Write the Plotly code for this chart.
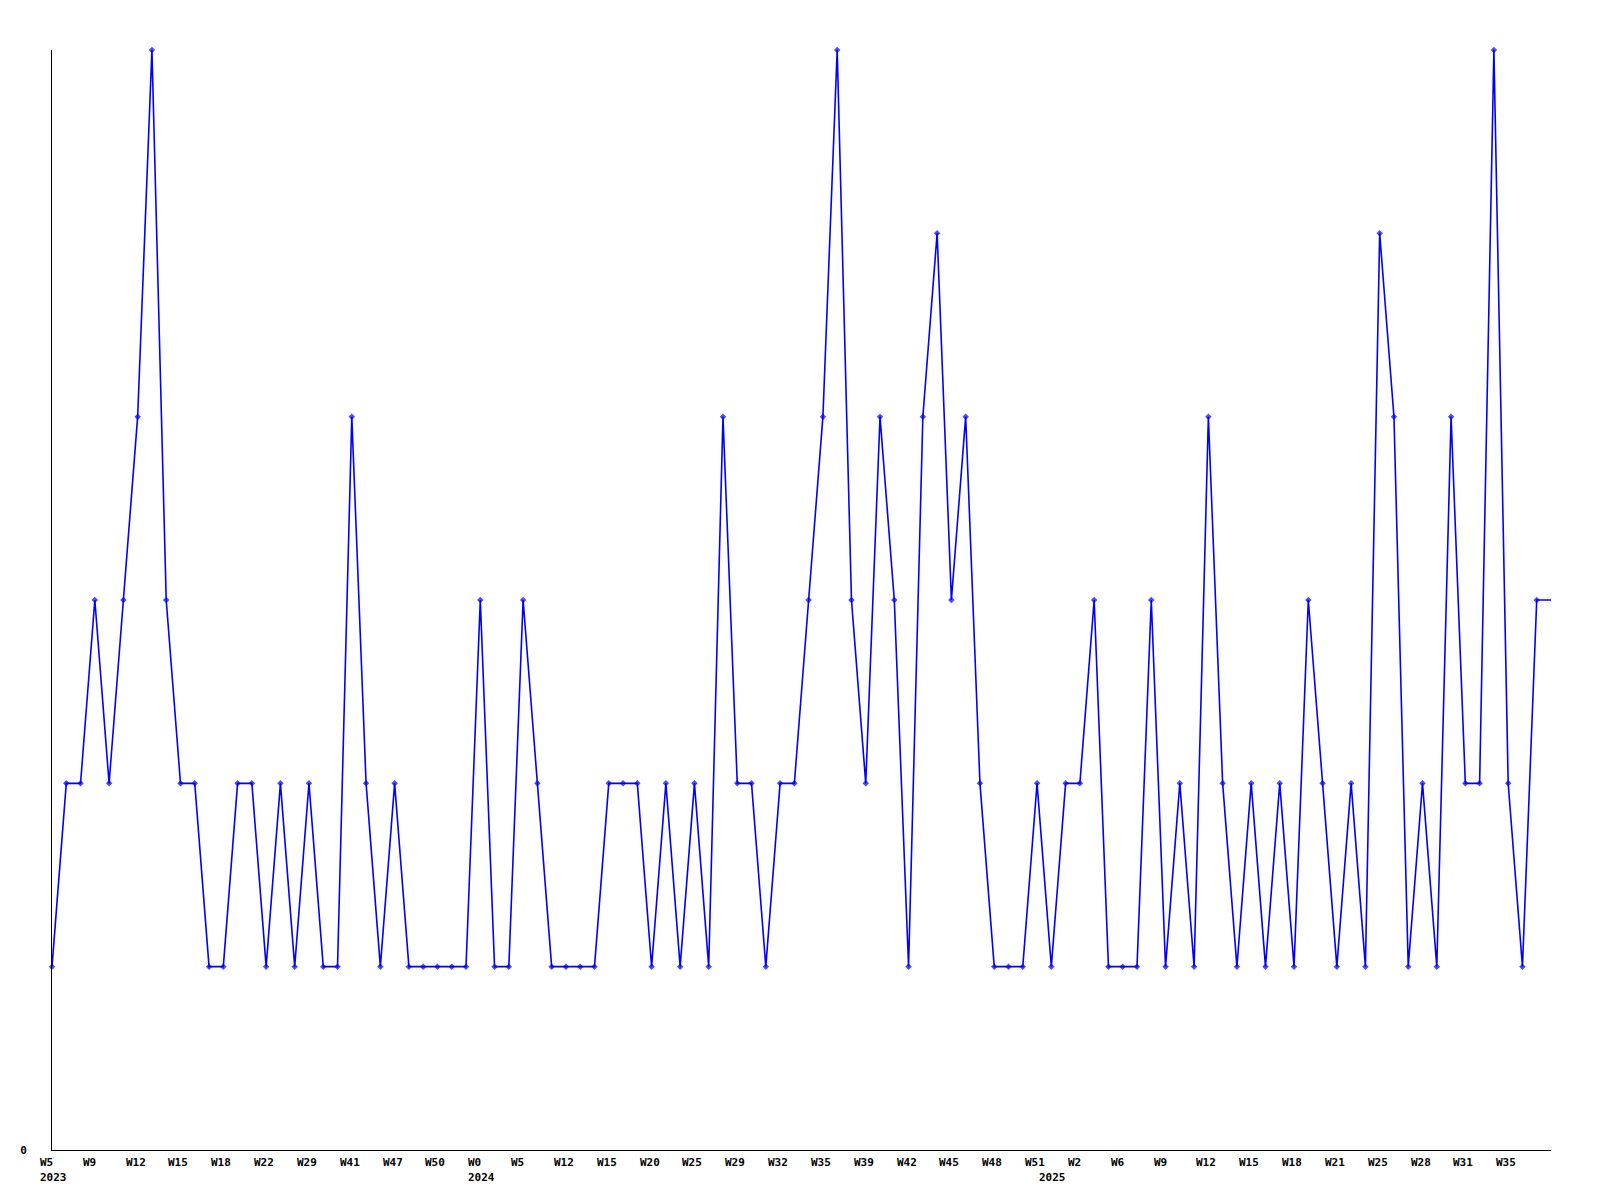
import plotly.graph_objects as go

# weekly counts, one point per reported week (last entry = current week, no marker)
cases = [1, 2, 2, 3, 2, 3, 4, 6, 3, 2,
         2, 1, 1, 2, 2, 1, 2, 1, 2, 1,
         1, 4, 2, 1, 2, 1, 1, 1, 1, 1,
         3, 1, 1, 3, 2, 1, 1, 1, 1, 2,
         2, 2, 1, 2, 1, 2, 1, 4, 2, 2,
         1, 2, 2, 3, 4, 6, 3, 2, 4, 3,
         1, 4, 5, 3, 4, 2, 1, 1, 1, 2,
         1, 2, 2, 3, 1, 1, 1, 3, 1, 2,
         1, 4, 2, 1, 2, 1, 2, 1, 3, 2,
         1, 2, 1, 5, 4, 1, 2, 1, 4, 2,
         2, 6, 2, 1, 3, 3]

week_labels = ["W5", "W9", "W12", "W15", "W18", "W22", "W29", "W41", "W47", "W50",
               "W0", "W5", "W12", "W15", "W20", "W25", "W29", "W32", "W35", "W39",
               "W42", "W45", "W48", "W51", "W2", "W6", "W9", "W12", "W15", "W18",
               "W21", "W25", "W28", "W31", "W35"]
label_step = 3

years = ["2023", "2024", "2025"]
year_pos = [0, 30, 70]

x = list(range(len(cases)))
marker_sizes = [5] * (len(cases) - 1) + [0]

font = dict(family="DejaVu Sans Mono", size=11, color="black", weight="bold")

fig = go.Figure()
fig.add_trace(
    go.Scatter(
        x=x, y=cases,
        mode="lines+markers",
        line=dict(color="#0000ff", width=1.6),
        marker=dict(symbol="diamond", size=marker_sizes, color="#0000ff", line=dict(width=0)),
        cliponaxis=False,
        showlegend=False))

for i, lab in enumerate(week_labels):
    fig.add_annotation(x=i * label_step, y=0, xref="x", yref="paper",
                       text=lab, showarrow=False, xanchor="left", yanchor="top",
                       xshift=-14, yshift=-4, font=font)

for yr, pos in zip(years, year_pos):
    fig.add_annotation(x=pos, y=0, xref="x", yref="paper",
                       text=yr, showarrow=False, xanchor="left", yanchor="top",
                       xshift=-14, yshift=-19, font=font)

# page body adds an 8px offset, margins compensate
fig.update_layout(
    width=1600, height=1200,
    margin=dict(l=42, r=57, t=42, b=58),
    plot_bgcolor="white", paper_bgcolor="white",
    font=font)
fig.update_xaxes(range=[0, len(cases) - 1], showticklabels=False, ticks="",
                 showline=True, linecolor="black", linewidth=1,
                 showgrid=False, zeroline=False)
fig.update_yaxes(range=[0, 6], tickvals=[0], ticktext=["0"], ticks="",
                 ticklabelstandoff=22, tickfont=font,
                 showline=True, linecolor="black", linewidth=1,
                 showgrid=False, zeroline=False)

fig.write_html("out.html")
